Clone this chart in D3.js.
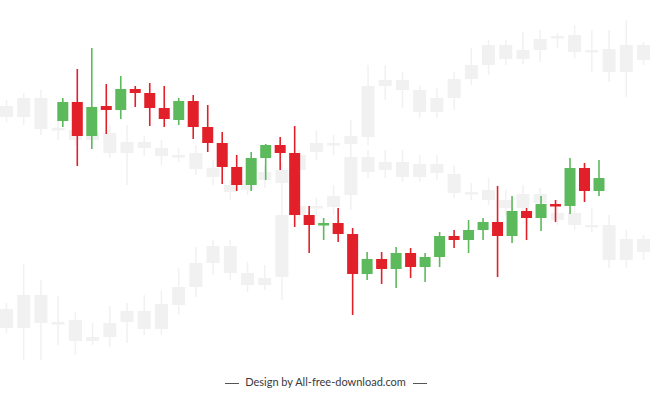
<!DOCTYPE html>
<html>
<head>
<meta charset="utf-8">
<script src="https://cdn.jsdelivr.net/npm/d3@7"></script>
<style>
  html, body { margin: 0; padding: 0; background: #fff; }
  svg { display: block; }
</style>
</head>
<body>
<div id="container"></div>
<script>
/* CONSTANTS AND GLOBALS */
const width = 650,
  height = 397;

// main candles (price units, higher = up)
const mainOpen  = [279, 298, 264, 294, 290, 311, 307, 292, 280, 299, 273, 257, 233, 215, 242, 255, 247, 185, 175, 177, 166, 126, 141, 131, 147, 133, 143, 164, 160, 170, 178, 164, 189, 182, 196, 194, 232, 209];
const mainClose = [298, 264, 293, 290, 311, 307, 292, 281, 299, 273, 257, 233, 215, 242, 255, 247, 185, 175, 177, 166, 126, 141, 131, 147, 133, 143, 164, 160, 170, 178, 164, 189, 182, 196, 194, 232, 209, 222];
const mainHigh  = [302, 331, 352, 316, 324, 314, 317, 314, 302, 305, 295, 268, 245, 248, 256, 263, 274, 194, 182, 192, 172, 148, 148, 153, 152, 147, 168, 170, 180, 182, 214, 204, 192, 204, 200, 242, 237, 240];
const mainLow   = [273, 234, 251, 266, 281, 293, 274, 273, 275, 261, 248, 216, 209, 209, 220, 230, 173, 147, 160, 158, 85, 120, 116, 112, 122, 118, 133, 152, 147, 160, 123, 157, 160, 169, 178, 186, 198, 204];

// faint background candles, upper series
const ghostAOpen  = [283, 283, 302, 272, 270, 268, 267, 258, 258, 252, 245, 247, 232, 215, 220, 228, 230, 245, 257, 257, 264, 314, 320, 320, 310, 302, 321, 335, 355, 355, 350, 361, 364, 365, 350, 351, 355, 355];
const ghostAClose = [294, 302, 271, 272, 260, 260, 247, 247, 252, 244, 245, 231, 223, 208, 210, 220, 217, 230, 248, 257, 256, 263, 314, 310, 288, 288, 302, 321, 335, 341, 341, 350, 364, 348, 350, 328, 328, 340];
const ghostAHigh  = [300, 307, 310, 280, 280, 275, 275, 275, 264, 260, 252, 255, 240, 220, 228, 235, 238, 250, 270, 265, 280, 335, 335, 328, 315, 312, 328, 352, 360, 360, 368, 370, 367, 375, 370, 370, 380, 358];
const ghostALow   = [278, 275, 265, 260, 255, 252, 242, 215, 244, 235, 238, 225, 215, 200, 205, 212, 200, 220, 240, 245, 250, 255, 300, 292, 282, 282, 290, 315, 325, 335, 336, 338, 352, 342, 328, 318, 303, 335];

// faint background candles, lower series
const ghostBOpen  = [72, 72, 105, 78, 80, 59, 63, 78, 71, 71, 95, 113, 137, 154, 127, 122, 123, 185, 194, 193, 205, 243, 238, 238, 236, 236, 226, 208, 210, 200, 206, 206, 187, 187, 175, 175, 161, 161];
const ghostBClose = [91, 105, 77, 78, 59, 63, 77, 89, 89, 96, 113, 137, 154, 127, 115, 115, 185, 194, 194, 204, 243, 228, 230, 223, 223, 227, 207, 208, 200, 192, 192, 197, 180, 175, 175, 140, 140, 148];
const ghostBHigh  = [97, 136, 120, 104, 88, 77, 94, 97, 105, 110, 132, 153, 160, 160, 138, 135, 200, 200, 202, 215, 250, 250, 250, 250, 245, 245, 235, 217, 222, 210, 215, 212, 200, 200, 192, 185, 170, 165];
const ghostBLow   = [67, 40, 40, 55, 45, 55, 53, 57, 65, 65, 85, 103, 125, 120, 108, 110, 100, 180, 185, 185, 190, 222, 222, 218, 218, 220, 202, 200, 195, 185, 185, 190, 175, 170, 168, 132, 132, 140];

const footerText = "Design by All-free-download.com";

const upColor = "#5cba5c",
  downColor = "#e2202a",
  ghostColor = "#f1f1f1";

/* SCALES */
const yScale = d3.scaleLinear()
  .domain([0, 400])
  .range([400, 0]);

const xMain = d3.scalePoint()
  .domain(d3.range(mainOpen.length))
  .range([62.8, 599]);

const xGhost = d3.scalePoint()
  .domain(d3.range(ghostAOpen.length))
  .range([6.5, 643.5]);

// build candle rows
function toCandles(o, c, h, l) {
  return o.map((d, i) => ({ i: i, open: d, close: c[i], high: h[i], low: l[i] }));
}

const mainData = toCandles(mainOpen, mainClose, mainHigh, mainLow);
const ghostData = toCandles(ghostAOpen, ghostAClose, ghostAHigh, ghostALow)
  .concat(toCandles(ghostBOpen, ghostBClose, ghostBHigh, ghostBLow));

/* SVG */
const svg = d3.select("#container")
  .append("svg")
  .attr("width", width)
  .attr("height", height);

function drawCandles(g, data, x, bodyW, wickW, colorFn) {
  const c = g.selectAll("g.candle")
    .data(data)
    .join("g")
    .attr("class", "candle");

  c.append("line")
    .attr("x1", d => x(d.i))
    .attr("x2", d => x(d.i))
    .attr("y1", d => yScale(d.high))
    .attr("y2", d => yScale(d.low))
    .attr("stroke", colorFn)
    .attr("stroke-width", wickW);

  c.append("rect")
    .attr("x", d => x(d.i) - bodyW / 2)
    .attr("y", d => yScale(Math.max(d.open, d.close)))
    .attr("width", bodyW)
    .attr("height", d => Math.max(2.5, Math.abs(yScale(d.open) - yScale(d.close))))
    .attr("fill", colorFn);
}

// background ghosts first
drawCandles(svg.append("g"), ghostData, xGhost, 13, 1.5, () => ghostColor);

// main chart
drawCandles(svg.append("g"), mainData, xMain, 11, 1.6,
  d => d.close >= d.open ? upColor : downColor);

// footer
const footer = svg.append("g");
footer.append("text")
  .attr("x", 325.5)
  .attr("y", 386)
  .attr("text-anchor", "middle")
  .attr("font-family", "Lato, 'DejaVu Sans', sans-serif")
  .attr("font-size", 11)
  .attr("fill", "#3a3a3a")
  .text(footerText);

footer.append("line")
  .attr("x1", 225).attr("x2", 239)
  .attr("y1", 383.5).attr("y2", 383.5)
  .attr("stroke", "#555").attr("stroke-width", 1);

footer.append("line")
  .attr("x1", 413).attr("x2", 427)
  .attr("y1", 383.5).attr("y2", 383.5)
  .attr("stroke", "#555").attr("stroke-width", 1);
</script>
</body>
</html>
